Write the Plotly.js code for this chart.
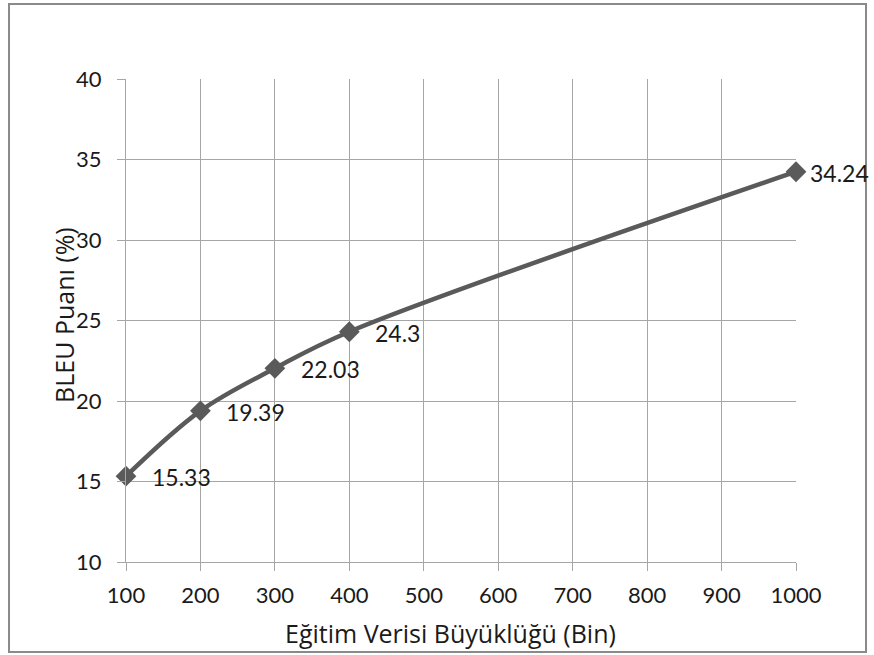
<!DOCTYPE html>
<html>
<head>
<meta charset="utf-8">
<script src="https://cdn.plot.ly/plotly-3.0.1.min.js"></script>
<style>html,body{margin:0;padding:0;background:#fff;}#chart{width:874px;height:655px;}</style>
</head>
<body>
<div id="chart"></div>
<script>
const trainSize = [100, 200, 300, 400, 1000];
const bleuScore = [15.33, 19.39, 22.03, 24.3, 34.24];
const xTicks = [100, 200, 300, 400, 500, 600, 700, 800, 900, 1000];
const yTicks = [10, 15, 20, 25, 30, 35, 40];
const xTitle = 'Eğitim Verisi Büyüklüğü (Bin)';
const yTitle = 'BLEU Puanı (%)';

const FONT = 'Lato, "Open Sans", sans-serif';
const TITLE_FONT = '"Open Sans", Lato, sans-serif';
const GRID = '#a6a6a6';
const LINE = '#5a5a5a';
const TXT = '#1a1a1a';

const trace = {
  x: trainSize, y: bleuScore,
  type: 'scatter', mode: 'lines+markers',
  line: {color: LINE, width: 4.5, shape: 'spline', smoothing: 1},
  marker: {symbol: 'diamond', size: 16, color: LINE},
  cliponaxis: false,
  hoverinfo: 'none'
};

const last = trainSize.length - 1;
const labelAnnotations = trainSize.map((x, i) => ({
  x: x, y: bleuScore[i], xref: 'x', yref: 'y',
  text: String(bleuScore[i]), showarrow: false,
  xanchor: 'left', yanchor: 'middle',
  xshift: i === last ? 12 : 24, yshift: -1,
  font: {family: FONT, size: 23, color: TXT}
}));

const titleAnnotations = [
  {xref: 'paper', yref: 'paper', x: 0.4836, y: -0.147, xanchor: 'center', yanchor: 'middle',
   text: xTitle, showarrow: false, font: {family: TITLE_FONT, size: 25, color: TXT}},
  {xref: 'paper', yref: 'paper', x: -0.093, y: 0.511, xanchor: 'center', yanchor: 'middle',
   textangle: -90, text: yTitle, showarrow: false, font: {family: TITLE_FONT, size: 25, color: TXT}}
];

const layout = {
  width: 874, height: 655,
  margin: {l: 126, r: 78, t: 79, b: 93},
  paper_bgcolor: '#fff', plot_bgcolor: '#fff',
  showlegend: false,
  font: {family: FONT, color: TXT, size: 22},
  xaxis: {
    range: [100, 1000], tickvals: xTicks, ticktext: xTicks.map(String),
    showgrid: true, gridcolor: GRID, gridwidth: 1,
    showline: true, linecolor: GRID, linewidth: 1,
    ticks: 'outside', ticklen: 8, tickcolor: GRID,
    ticklabelstandoff: 6,
    zeroline: false, tickfont: {size: 22, color: TXT}
  },
  yaxis: {
    range: [10, 40], tickvals: yTicks, ticktext: yTicks.map(String),
    showgrid: true, gridcolor: GRID, gridwidth: 1,
    showline: true, linecolor: GRID, linewidth: 1,
    ticks: 'outside', ticklen: 8, tickcolor: GRID,
    ticklabelstandoff: 11,
    zeroline: false, tickfont: {size: 22, color: TXT}
  },
  annotations: labelAnnotations.concat(titleAnnotations),
  shapes: [{
    type: 'rect', xref: 'paper', yref: 'paper',
    x0: -0.1746, x1: 1.1045, y0: -0.1863, y1: 1.1553,
    line: {color: '#8a8a8a', width: 2}, fillcolor: 'rgba(0,0,0,0)', layer: 'below'
  }]
};

Plotly.newPlot('chart', [trace], layout, {displayModeBar: false, staticPlot: true});
</script>
</body>
</html>
